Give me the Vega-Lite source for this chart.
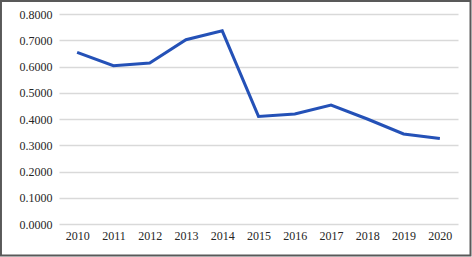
{
  "$schema": "https://vega.github.io/schema/vega-lite/v6.json",
  "width": 399,
  "height": 210,
  "autosize": {"type": "none"},
  "padding": {"left": 59, "top": 14, "right": 14, "bottom": 33},
  "background": "white",
  "config": {"view": {"stroke": null}, "font": "Liberation Serif", "axis": {"labelFont": "Liberation Serif"}},
  "data": {"values": [
    {"year": 2010, "value": 0.654},
    {"year": 2011, "value": 0.603},
    {"year": 2012, "value": 0.613},
    {"year": 2013, "value": 0.702},
    {"year": 2014, "value": 0.736},
    {"year": 2015, "value": 0.410},
    {"year": 2016, "value": 0.419},
    {"year": 2017, "value": 0.453},
    {"year": 2018, "value": 0.400},
    {"year": 2019, "value": 0.343},
    {"year": 2020, "value": 0.326}
  ]},
  "resolve": {"axis": {"x": "independent", "y": "independent"}},
  "layer": [
    {
      "mark": {"type": "line", "color": "#2451b7", "strokeWidth": 3},
      "encoding": {
        "x": {
          "field": "year", "type": "quantitative",
          "scale": {"domain": [2009.5, 2020.5], "nice": false, "zero": false},
          "axis": {"values": [2010, 2011, 2012, 2013, 2014, 2015, 2016, 2017, 2018, 2019, 2020], "format": "d", "grid": false, "domain": false, "ticks": false, "labelFontSize": 12, "labelColor": "#262626", "labelPadding": 6, "title": null, "labelFlush": false, "labelOverlap": false}
        },
        "y": {
          "field": "value", "type": "quantitative",
          "scale": {"domain": [0, 0.8], "nice": false},
          "axis": {"values": [0, 0.1, 0.2, 0.3, 0.4, 0.5, 0.6, 0.7, 0.8], "format": ".4f", "gridColor": "#d9d9d9", "gridWidth": 1.5, "domain": false, "ticks": false, "labelFontSize": 12, "labelColor": "#262626", "labelPadding": 7, "title": null, "labelFlush": false, "labelOverlap": false}
        }
      }
    },
    {
      "data": {"values": [{}]},
      "mark": {"type": "rect", "filled": false, "stroke": "#595959", "strokeWidth": 2, "clip": false},
      "encoding": {
        "x": {"datum": 2007.9, "type": "quantitative", "axis": null},
        "x2": {"datum": 2020.845},
        "y": {"datum": 0.8495, "type": "quantitative", "axis": null},
        "y2": {"datum": -0.12}
      }
    }
  ]
}
